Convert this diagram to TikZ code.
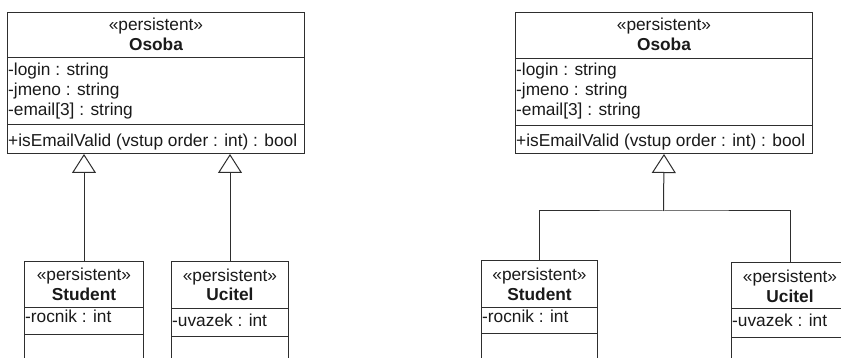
\documentclass[tikz,border=0pt]{standalone}
\usepackage{fontspec}
\setmainfont{Liberation Sans}
\usetikzlibrary{arrows.meta}
\definecolor{ln}{HTML}{2E2E2E}
\definecolor{tx}{HTML}{1A1A1A}
\begin{document}
\begin{tikzpicture}[x=1pt,y=-1pt,
  cls/.style={draw=ln, line width=1pt, rectangle, inner sep=0pt, anchor=north west},
  sep/.style={draw=ln, line width=1pt},
  lbl/.style={inner sep=0pt, anchor=base, text=tx, font=\fontsize{17.3}{20}\selectfont},
  attr/.style={lbl, anchor=base west},
  cname/.style={lbl, font=\fontsize{17.3}{20}\selectfont\bfseries},
  gen/.style={draw=ln, line width=1pt, -{Triangle[open, width=24pt, length=19pt, line width=1pt]}},
  con/.style={draw=ln, line width=1pt}]
\useasboundingbox (0,0) rectangle (841,358);
\clip (0,0) rectangle (841,358);
\fill[white] (0,0) rectangle (841,358);

% ---------- left diagram ----------
\node[cls, minimum width=297pt, minimum height=141pt] (osL) at (7,12) {};
\draw[sep] ([yshift=-46pt]osL.north west) -- ([yshift=-46pt]osL.north east);
\draw[sep] ([yshift=-113pt]osL.north west) -- ([yshift=-113pt]osL.north east);
\node[lbl] (osLs) at ([yshift=-19pt]osL.north) {«persistent»};
\node[cname] (osLn) at ([yshift=-39pt]osL.north) {Osoba};
\node[attr] (osLa1) at ([xshift=1pt,yshift=-63.5pt]osL.north west) {-login : string};
\node[attr] (osLa2) at ([xshift=1pt,yshift=-83.5pt]osL.north west) {-jmeno : string};
\node[attr] (osLa3) at ([xshift=1pt,yshift=-103.5pt]osL.north west) {-email[3] : string};
\node[attr] (osLm1) at ([xshift=1pt,yshift=-135pt]osL.north west) {+isEmailValid (vstup order : int) : bool};

\node[cls, minimum width=119pt, minimum height=130pt] (stuL) at (24,261) {};
\draw[sep] ([yshift=-46pt]stuL.north west) -- ([yshift=-46pt]stuL.north east);
\draw[sep] ([yshift=-73pt]stuL.north west) -- ([yshift=-73pt]stuL.north east);
\node[lbl] (stuLs) at ([yshift=-19pt]stuL.north) {«persistent»};
\node[cname] (stuLn) at ([yshift=-39pt]stuL.north) {Student};
\node[attr] (stuLa1) at ([xshift=1pt,yshift=-62pt]stuL.north west) {-rocnik : int};

\node[cls, minimum width=117pt, minimum height=130pt] (ucL) at (171,261) {};
\draw[sep] ([yshift=-47pt]ucL.north west) -- ([yshift=-47pt]ucL.north east);
\draw[sep] ([yshift=-75pt]ucL.north west) -- ([yshift=-75pt]ucL.north east);
\node[lbl] (ucLs) at ([yshift=-20pt]ucL.north) {«persistent»};
\node[cname] (ucLn) at ([yshift=-40pt]ucL.north) {Ucitel};
\node[attr] (ucLa1) at ([xshift=1pt,yshift=-65pt]ucL.north west) {-uvazek : int};

\draw[gen] (stuL.north) -- (stuL.north |- osL.south);
\draw[gen] (ucL.north) -- (ucL.north |- osL.south);

% ---------- right diagram ----------
\node[cls, minimum width=297pt, minimum height=141pt] (osR) at (515,12) {};
\draw[sep] ([yshift=-47pt]osR.north west) -- ([yshift=-47pt]osR.north east);
\draw[sep] ([yshift=-114pt]osR.north west) -- ([yshift=-114pt]osR.north east);
\node[lbl] (osRs) at ([yshift=-19pt]osR.north) {«persistent»};
\node[cname] (osRn) at ([yshift=-39pt]osR.north) {Osoba};
\node[attr] (osRa1) at ([xshift=1pt,yshift=-63.5pt]osR.north west) {-login : string};
\node[attr] (osRa2) at ([xshift=1pt,yshift=-83.5pt]osR.north west) {-jmeno : string};
\node[attr] (osRa3) at ([xshift=1pt,yshift=-103.5pt]osR.north west) {-email[3] : string};
\node[attr] (osRm1) at ([xshift=1pt,yshift=-135pt]osR.north west) {+isEmailValid (vstup order : int) : bool};

\node[cls, minimum width=116pt, minimum height=130pt] (stuR) at (481,260) {};
\draw[sep] ([yshift=-47pt]stuR.north west) -- ([yshift=-47pt]stuR.north east);
\draw[sep] ([yshift=-73pt]stuR.north west) -- ([yshift=-73pt]stuR.north east);
\node[lbl] (stuRs) at ([yshift=-20pt]stuR.north) {«persistent»};
\node[cname] (stuRn) at ([yshift=-40pt]stuR.north) {Student};
\node[attr] (stuRa1) at ([xshift=1pt,yshift=-63pt]stuR.north west) {-rocnik : int};

\node[cls, minimum width=117pt, minimum height=130pt] (ucR) at (731,262) {};
\draw[sep] ([yshift=-46pt]ucR.north west) -- ([yshift=-46pt]ucR.north east);
\draw[sep] ([yshift=-75pt]ucR.north west) -- ([yshift=-75pt]ucR.north east);
\node[lbl] (ucRs) at ([yshift=-21pt]ucR.north) {«persistent»};
\node[cname] (ucRn) at ([yshift=-40pt]ucR.north) {Ucitel};
\node[attr] (ucRa1) at ([xshift=1pt,yshift=-64pt]ucR.north west) {-uvazek : int};

\coordinate (join) at (663.5,211);
\draw[con] (stuR.north) |- (join) -| (ucR.north);
\draw[gen] (join) -- (osR.south);
\end{tikzpicture}
\end{document}
